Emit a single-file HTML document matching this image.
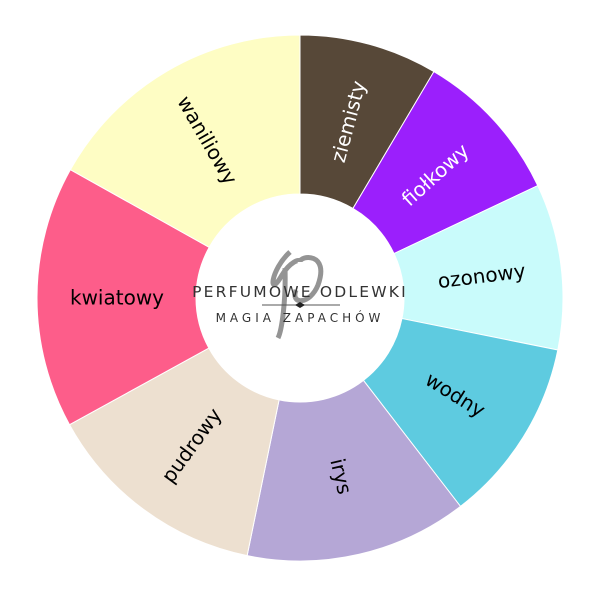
<!DOCTYPE html>
<html><head><meta charset="utf-8"><style>
html,body{margin:0;padding:0;background:#fff;width:600px;height:600px;overflow:hidden}
svg{display:block}
text{font-family:"DejaVu Sans","Liberation Sans",sans-serif}
</style></head><body>
<svg id="s" width="600" height="600" viewBox="0 0 600 600" xmlns="http://www.w3.org/2000/svg">
<g id="w"></g>
<circle cx="300" cy="298" r="104" fill="#fff"/>
<path d="M290 252 C270 270 268 300 282 275 C290 262 300 258 300 262 M300 262 C300 255 330 252 318 285 C310 305 290 305 296 290 M285 268 C286 300 282 330 278 338" fill="none" stroke="#666" stroke-width="5" opacity="0.7"/>
<text x="300" y="297" text-anchor="middle" font-size="15.5" fill="#333" letter-spacing="2.2">PERFUMOWE ODLEWKI</text>
<line x1="262" y1="305" x2="340" y2="305" stroke="#555" stroke-width="1"/>
<path d="M295 305 L300 302 L305 305 L300 308Z" fill="#222"/>
<text x="300" y="322" text-anchor="middle" font-size="12" fill="#333" letter-spacing="4">MAGIA ZAPACHÓW</text>
</svg>
<script>
var cx=300,cy=298,R=263,r=104;
var segs=[["ziemisty",0,30.6,"#574838","#fff",-75],["fiołkowy",30.6,64.7,"#9b1ffc","#fff",-42],["ozonowy",64.7,101.4,"#c9fbfb","#000",-7],["wodny",101.4,142.4,"#5ecbe0","#000",32],["irys",142.4,191.6,"#b5a7d6","#000",77],["pudrowy",191.6,241.2,"#ede0d0","#000",-54],["kwiatowy",241.2,299.2,"#fd5d8a","#000",0],["waniliowy",299.2,360,"#fefdc4","#000",60]];
function p(a,rad){var t=a*Math.PI/180;return [cx+rad*Math.sin(t),cy-rad*Math.cos(t)];}
var g=document.getElementById('w'),h='';
segs.forEach(function(s){var a=p(s[1],R),b=p(s[2],R),c=p(s[2],r),d=p(s[1],r);
h+='<path d="M'+a+' A'+R+' '+R+' 0 0 1 '+b+' L'+c+' A'+r+' '+r+' 0 0 0 '+d+'Z" fill="'+s[3]+'" stroke="#fff" stroke-width="1"/>';
var m=p((s[1]+s[2])/2,183);
h+='<text x="'+m[0]+'" y="'+m[1]+'" font-size="20" fill="'+s[4]+'" text-anchor="middle" dominant-baseline="central" transform="rotate('+s[5]+' '+m[0]+' '+m[1]+')">'+s[0]+'</text>';});
g.innerHTML=h;
</script>
</body></html>
